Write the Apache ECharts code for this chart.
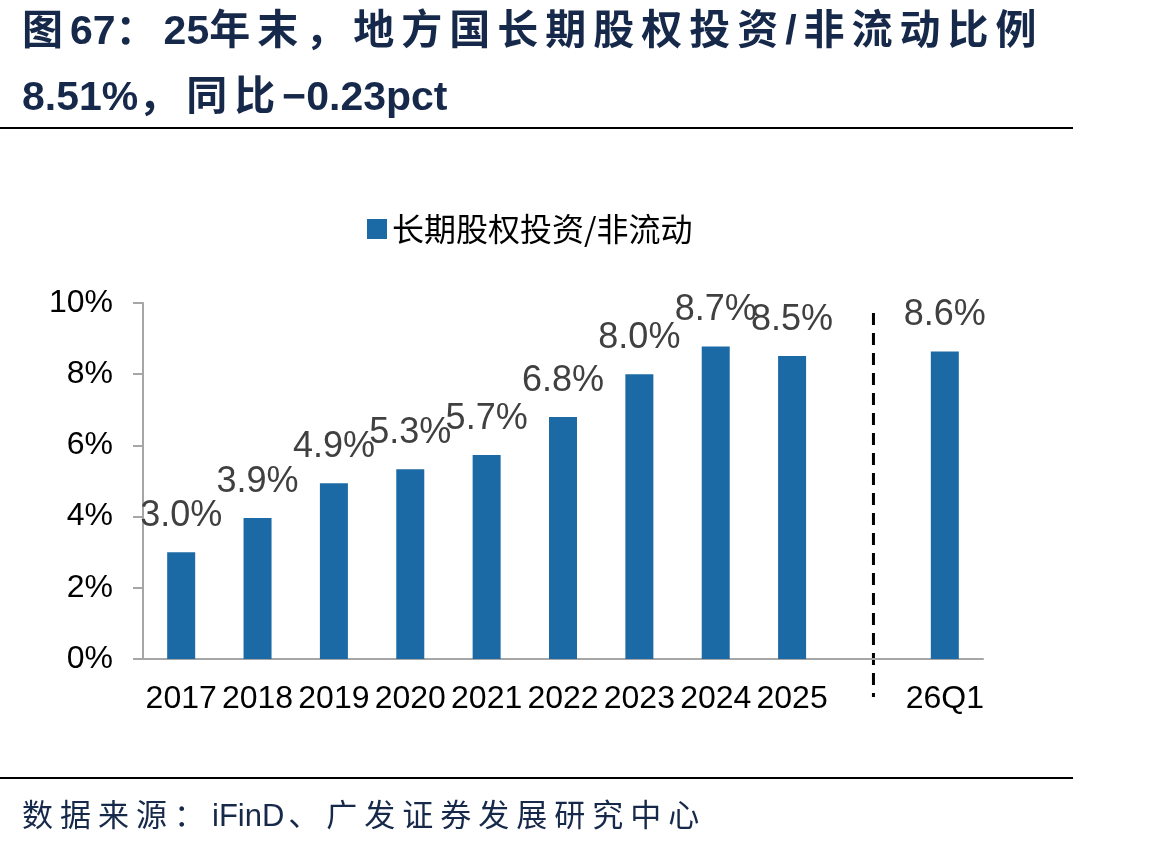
<!DOCTYPE html>
<html>
<head>
<meta charset="utf-8">
<script src="https://cdn.jsdelivr.net/npm/echarts@6/dist/echarts.min.js"></script>
<style>
  html, body { margin: 0; padding: 0; background: #fff; }
  #wrap { position: relative; width: 1169px; height: 847px; overflow: hidden; }
  #chart { position: absolute; left: 0; top: 0; width: 1169px; height: 847px; }
  .title { position: absolute; left: 22px; color: #17294a; font-family: "Liberation Sans", "Noto Sans CJK SC", sans-serif; font-weight: bold; font-size: 41px; letter-spacing: 7px; white-space: nowrap; }
  .title .num { letter-spacing: 0; }
  .rule { position: absolute; left: 0; width: 1073px; height: 2px; background: #000; }
  .source { position: absolute; left: 22px; top: 790px; color: #17294a; font-family: "Noto Sans CJK SC", sans-serif; font-size: 31px; letter-spacing: 7px; white-space: nowrap; }
  .source .lat { font-family: "Liberation Sans", sans-serif; letter-spacing: 0; margin-right: 4px; }
</style>
</head>
<body>
<div id="wrap">
  <div id="chart"></div>
  <div class="title" style="top:-4px">图<span class="num">67</span>：<span class="num">25</span>年末，地方国长期股权投资/非流动比例</div>
  <div class="title" style="top:62px"><span class="num">8.51%</span>，同比<span class="num">−0.23pct</span></div>
  <div class="rule" style="top:127px"></div>
  <div class="rule" style="top:777px"></div>
  <div class="source">数据来源：<span class="lat">iFinD</span>、广发证券发展研究中心</div>
</div>
<script>
// 年份 + 空位 + 26Q1
const categories = ['2017', '2018', '2019', '2020', '2021', '2022', '2023', '2024', '2025', '', '26Q1']
const ratio = [3.0, 3.96, 4.94, 5.33, 5.73, 6.80, 8.0, 8.78, 8.51, '-', 8.64]
const yTicks = [0, 2, 4, 6, 8, 10]
const seriesName = '长期股权投资/非流动'
// 分隔虚线：空位处，从 9.72% 画到 -1.07%
const dividerIndex = 9
const dividerRange = [9.72, -1.07]

const chart = echarts.init(document.getElementById('chart'))

const option = {
  animation: false,
  textStyle: { fontFamily: 'Arial, "Liberation Sans", sans-serif' },
  legend: {
    data: [seriesName],
    left: 362,
    top: 208,
    itemWidth: 20,
    itemHeight: 20,
    itemGap: 8,
    icon: 'rect',
    textStyle: { fontSize: 32, color: '#000', fontFamily: '"Noto Sans CJK SC", sans-serif' }
  },
  grid: {
    left: 143,
    right: 186,
    top: 303,
    bottom: 188,
    containLabel: false
  },
  xAxis: {
    type: 'category',
    data: categories,
    axisLine: { lineStyle: { color: '#a6a6a6', width: 2 } },
    axisTick: { show: false },
    axisLabel: { interval: 0, fontSize: 32, color: '#000', margin: 24 }
  },
  yAxis: {
    type: 'value',
    min: yTicks[0],
    max: yTicks[yTicks.length - 1],
    interval: 2,
    axisLine: { show: true, lineStyle: { color: '#a6a6a6', width: 2 } },
    axisTick: { show: true, length: 10, lineStyle: { color: '#a6a6a6', width: 2 } },
    splitLine: { show: false },
    axisLabel: { fontSize: 32, color: '#000', margin: 30, formatter: v => v + '%' }
  },
  series: [{
    name: seriesName,
    type: 'bar',
    data: ratio,
    barWidth: 28,
    itemStyle: { color: '#1c6aa5' },
    label: {
      show: true,
      position: 'top',
      distance: 18,
      fontSize: 36,
      color: '#404040',
      formatter: p => (Math.floor(p.value * 10 + 1e-6) / 10).toFixed(1) + '%'
    }
  }]
}

chart.setOption(option)

// 虚线位置由坐标系换算
const p1 = chart.convertToPixel({ gridIndex: 0 }, [dividerIndex, dividerRange[0]])
const p2 = chart.convertToPixel({ gridIndex: 0 }, [dividerIndex, dividerRange[1]])
chart.setOption({
  graphic: [{
    type: 'line',
    silent: true,
    shape: { x1: p1[0] + 5, y1: p1[1], x2: p2[0] + 5, y2: p2[1] },
    style: { stroke: '#000', lineWidth: 3, lineDash: [12, 8] }
  }]
})
</script>
</body>
</html>
